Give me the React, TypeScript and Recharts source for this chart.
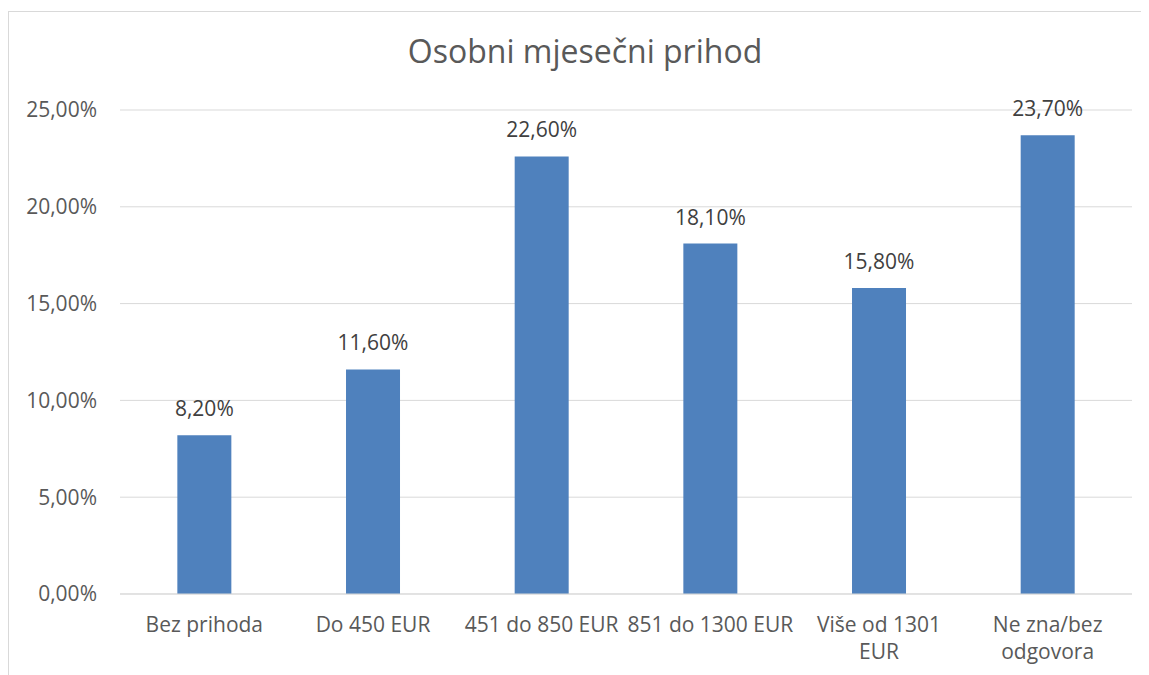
import React from "react";
import { Bar, BarChart, CartesianGrid, LabelList, XAxis, YAxis } from "recharts";

const categories = ["Bez prihoda", "Do 450 EUR", "451 do 850 EUR", "851 do 1300 EUR", "Više od 1301 EUR", "Ne zna/bez odgovora"];
const shares = [8.2, 11.6, 22.6, 18.1, 15.8, 23.7];
const yTicks = [0, 5, 10, 15, 20, 25];

const data = categories.map((name, i) => ({ name, value: shares[i] }));

const FONT = "'Open Sans', sans-serif";
const GREY = "#595959";

const pct = (v: number) => v.toFixed(2).replace(".", ",") + "%";

const wrap = (s: string, max: number) => {
    const lines: string[] = [];
    let cur = "";
    s.split(" ").forEach((w) => {
        const next = cur ? cur + " " + w : w;
        if (next.length > max && cur) {
            lines.push(cur);
            cur = w;
        } else {
            cur = next;
        }
    });
    if (cur) lines.push(cur);
    return lines;
};

const CategoryTick = (props: any) => {
    const { x, y, payload } = props;
    const lines = wrap(payload.value, 15);
    return (
        <text x={x} y={y} textAnchor="middle" fill={GREY} fontSize={21} fontFamily={FONT}>
            {lines.map((l, i) => (
                <tspan key={i} x={x} dy={i === 0 ? 30 : 27}>
                    {l}
                </tspan>
            ))}
        </text>
    );
};

export default function App() {
    return (
        <div style={{ position: "relative", width: 1141, height: 667 }}>
            <div
                style={{
                    position: "absolute",
                    left: 0,
                    top: 3,
                    width: 1160,
                    height: 680,
                    borderLeft: "1px solid #d9d9d9",
                    borderTop: "1px solid #d9d9d9",
                }}
            />
            <div
                style={{
                    position: "absolute",
                    left: 0,
                    width: 1154,
                    top: 21,
                    textAlign: "center",
                    fontFamily: FONT,
                    fontSize: 32,
                    color: GREY,
                }}
            >
                Osobni mjesečni prihod
            </div>
            <BarChart
                width={1141}
                height={667}
                data={data}
                margin={{ top: 102, right: 17, left: 0, bottom: 51 }}
                barCategoryGap="34%"
                style={{ position: "absolute", left: 0, top: 0 }}
            >
                <CartesianGrid vertical={false} stroke="#d9d9d9" />
                <XAxis
                    dataKey="name"
                    axisLine={{ stroke: "#d9d9d9" }}
                    tickLine={false}
                    interval={0}
                    tick={<CategoryTick />}
                />
                <YAxis
                    width={112}
                    domain={[0, 25]}
                    ticks={yTicks}
                    tickFormatter={pct}
                    axisLine={false}
                    tickLine={false}
                    tickMargin={17}
                    tick={{ fontSize: 21, fill: GREY, fontFamily: FONT }}
                />
                <Bar dataKey="value" fill="#4f81bd" isAnimationActive={false}>
                    <LabelList
                        dataKey="value"
                        position="top"
                        offset={19}
                        formatter={(v: any) => pct(Number(v))}
                        style={{ fontSize: 21, fill: "#404040", fontFamily: FONT }}
                    />
                </Bar>
            </BarChart>
        </div>
    );
}
